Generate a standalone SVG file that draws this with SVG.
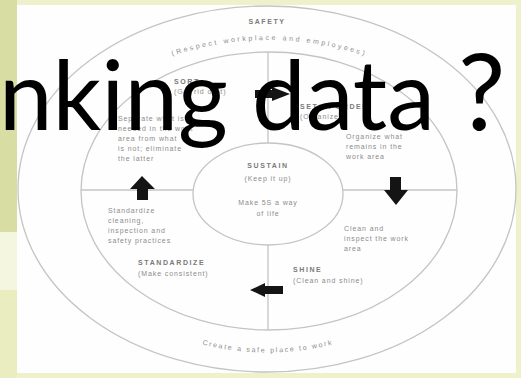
<svg xmlns="http://www.w3.org/2000/svg" width="521" height="378" viewBox="0 0 521 378">
<defs>
<style>
.ln{fill:none;stroke:#c4c4c4;stroke-width:1.3}
.t{font-family:"Liberation Sans",Arial,sans-serif;font-size:7px;fill:#8c8c8c;letter-spacing:0.9px}
.h{font-family:"Liberation Sans",Arial,sans-serif;font-size:7px;font-weight:bold;fill:#7a7a7a;letter-spacing:1.6px}
.ar{fill:#141414}
</style>
<path id="arcTop" d="M 163 59 Q 268 21 374 59"/>
<path id="arcBot" d="M 193 342 Q 268 363 342 342"/>
</defs>
<rect x="0" y="0" width="521" height="378" fill="#eef1cc"/>
<rect x="0" y="0" width="17" height="232" fill="#d8dda4"/>
<rect x="0" y="232" width="17" height="58" fill="#f4f6e0"/>
<rect x="0" y="290" width="17" height="88" fill="#e9edc0"/>
<rect x="17" y="5" width="499" height="368" fill="#fefefe"/>

<g id="connectors">
<ellipse class="ln" cx="267" cy="189" rx="249" ry="183"/>
<ellipse class="ln" cx="269" cy="191" rx="188" ry="139"/>
<ellipse class="ln" cx="268" cy="194" rx="75" ry="51"/>
<line class="ln" x1="81" y1="190" x2="193" y2="190"/>
<line class="ln" x1="343" y1="190" x2="457" y2="190"/>
<line class="ln" x1="268" y1="52" x2="268" y2="143"/>
<line class="ln" x1="268" y1="245" x2="268" y2="330"/>
<polygon class="ar" points="255,90 272,90 272,87 290,94 272,101 272,98 255,98"/>
<polygon class="ar" points="390,177 401,177 401,190 408,190 396,205 384,190 390,190"/>
<polygon class="ar" points="283,286 265,286 265,283 250,290 265,297 265,294 283,294"/>
<polygon class="ar" points="137,200 148,200 148,189 155,189 142,176 130,189 137,189"/>
</g>

<g id="safety">
<text class="h" x="267" y="24" text-anchor="middle">SAFETY</text>
<text class="t"><textPath href="#arcTop" startOffset="50%" text-anchor="middle" textLength="196" lengthAdjust="spacing">(Respect workplace and employees)</textPath></text>
<text class="t"><textPath href="#arcBot" startOffset="50%" text-anchor="middle" textLength="132" lengthAdjust="spacing">Create a safe place to work</textPath></text>
</g>

<g id="sort">
<text class="h" x="174" y="84">SORT</text>
<text class="t" x="174" y="94">(Get rid of it)</text>
<text class="t" x="118" y="121">Separate what is</text>
<text class="t" x="118" y="131">needed in the work</text>
<text class="t" x="118" y="141">area from what</text>
<text class="t" x="118" y="151">is not; eliminate</text>
<text class="t" x="118" y="161">the latter</text>
</g>

<g id="setinorder">
<text class="h" x="300" y="109">SET IN ORDER</text>
<text class="t" x="300" y="119">(Organize)</text>
<text class="t" x="346" y="139">Organize what</text>
<text class="t" x="346" y="149">remains in the</text>
<text class="t" x="346" y="159">work area</text>
</g>

<g id="sustain">
<text class="h" x="268" y="168" text-anchor="middle">SUSTAIN</text>
<text class="t" x="268" y="181" text-anchor="middle">(Keep it up)</text>
<text class="t" x="268" y="205" text-anchor="middle">Make 5S a way</text>
<text class="t" x="268" y="216" text-anchor="middle">of life</text>
</g>

<g id="shine">
<text class="t" x="344" y="231">Clean and</text>
<text class="t" x="344" y="241">inspect the work</text>
<text class="t" x="344" y="251">area</text>
<text class="h" x="293" y="272">SHINE</text>
<text class="t" x="293" y="283">(Clean and shine)</text>
</g>

<g id="standardize">
<text class="t" x="108" y="213">Standardize</text>
<text class="t" x="108" y="223">cleaning,</text>
<text class="t" x="108" y="233">inspection and</text>
<text class="t" x="108" y="243">safety practices</text>
<text class="h" x="138" y="265">STANDARDIZE</text>
<text class="t" x="138" y="276">(Make consistent)</text>
</g>

<g id="overlay">
<text x="-1" y="130" font-family="Lato,'Open Sans',sans-serif" font-size="96" fill="#000">nking <tspan x="252">data</tspan><tspan x="458" font-size="106">?</tspan></text>
</g>
</svg>
